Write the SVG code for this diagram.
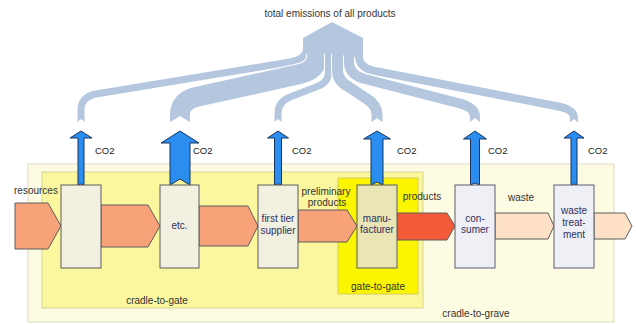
<svg xmlns="http://www.w3.org/2000/svg" width="636" height="324" viewBox="0 0 636 324">
<style>
  .t { font-family: "Liberation Sans", Arial, sans-serif; font-size: 10px; fill: #333; }
  .mid { text-anchor: middle; }
  .in { fill: #2e2e5e; text-anchor: middle; }
  .co2t { font-size: 9.5px; fill: #222; }
  .box { stroke: #5c5c5c; stroke-width: 1; }
  .beige { fill: #f2f0e0; }
  .khaki { fill: #e9e5b4; }
  .lav { fill: #efeff6; stroke: #5e5e70; }
  .flow { stroke: #5c5c5c; stroke-width: 1; stroke-linejoin: miter; }
  .salmon { fill: #f8a27a; }
  .red { fill: #f35a3a; }
  .peach { fill: #fde0c6; }
  .co2 { fill: #2b8df0; stroke: #17345e; stroke-width: 1; stroke-linejoin: miter; }
  .band { fill: none; stroke: #b4c7df; stroke-linecap: butt; stroke-linejoin: round; }
  .halo { fill: none; stroke: #ffffff; stroke-linecap: butt; stroke-linejoin: round; }
  .notch { fill: #ffffff; }
</style>

<g id="region-cradle-to-grave">
  <rect x="28" y="164" width="586" height="158" fill="#fdfbe1" stroke="#dedbc4" stroke-width="1"/>
  <text class="t mid" x="476" y="317">cradle-to-grave</text>
</g>
<g id="region-cradle-to-gate">
  <rect x="42" y="172" width="381" height="136" fill="#faf79e" stroke="#d8d590" stroke-width="1"/>
  <text class="t mid" x="157" y="304">cradle-to-gate</text>
</g>
<g id="region-gate-to-gate">
  <rect x="338" y="178" width="80" height="116" fill="#fbf500" stroke="#d4cc60" stroke-width="1"/>
  <text class="t mid" x="378" y="290">gate-to-gate</text>
</g>

<g id="connectors">
  <!-- emission bands -->
  <g id="bands">
    <path class="halo" stroke-width="9" d="M 81,122 V 110 Q 81,97 96,94 L 290,62 Q 306.5,59 306.5,48 V 40"/>
    <path class="band" stroke-width="7" d="M 81,122 V 110 Q 81,97 96,94 L 290,62 Q 306.5,59 306.5,48 V 40"/>
    <path class="halo" stroke-width="22" d="M 180,122 V 114 Q 180,101 196,97 L 300,74 Q 317,70 317,57 V 40"/>
    <path class="band" stroke-width="20" d="M 180,122 V 114 Q 180,101 196,97 L 300,74 Q 317,70 317,57 V 40"/>
    <path class="halo" stroke-width="9" d="M 278,122 V 113 Q 278,102 290,97 L 316,87 Q 328.5,83 328.5,72 V 40"/>
    <path class="band" stroke-width="7" d="M 278,122 V 113 Q 278,102 290,97 L 316,87 Q 328.5,83 328.5,72 V 40"/>
    <path class="halo" stroke-width="10" d="M 574,122 V 118 Q 574,109 556,106 L 375,71 Q 359,68 359,56 V 40"/>
    <path class="band" stroke-width="8" d="M 574,122 V 118 Q 574,109 556,106 L 375,71 Q 359,68 359,56 V 40"/>
    <path class="halo" stroke-width="12" d="M 475,122 V 117 Q 475,107 458,103 L 365,79 Q 349,75 349,62 V 40"/>
    <path class="band" stroke-width="10" d="M 475,122 V 117 Q 475,107 458,103 L 365,79 Q 349,75 349,62 V 40"/>
    <path class="halo" stroke-width="13" d="M 377,122 V 115 Q 377,105 367,99 L 349,87 Q 337.5,81 337.5,70 V 40"/>
    <path class="band" stroke-width="11" d="M 377,122 V 115 Q 377,105 367,99 L 349,87 Q 337.5,81 337.5,70 V 40"/>
    <polygon fill="#b4c7df" points="303,54 303,38 332,22 363,38 363,58 333,54"/>
    <polygon class="notch" points="77,122.6 81,119 85,122.6"/>
    <polygon class="notch" points="169.5,122.6 180,116 190.5,122.6"/>
    <polygon class="notch" points="274,122.6 278,119 282,122.6"/>
    <polygon class="notch" points="371,122.6 377,118 383,122.6"/>
    <polygon class="notch" points="469.5,122.6 475,118 480.5,122.6"/>
    <polygon class="notch" points="570,122.6 574,119 578,122.6"/>
  </g>

  <!-- CO2 arrows -->
  <g id="co2-arrows">
    <polygon class="co2" points="81,131 92,138 84,138 84,185 81,184 78,185 78,138 70,138"/>
    <polygon class="co2" points="180,131 199,143 190,143 190,185 180,179 170,185 170,143 161,143"/>
    <polygon class="co2" points="278,131 288.5,138 281.5,138 281.5,185 278,184 274.5,185 274.5,138 267.5,138"/>
    <polygon class="co2" points="377,131 390.5,139 383,139 383,185 377,182 371,185 371,139 363.5,139"/>
    <polygon class="co2" points="475,131 486.5,139 479.5,139 479.5,185 475,183 470.5,185 470.5,139 463.5,139"/>
    <polygon class="co2" points="574,131 584,138 577,138 577,185 574,184 571,185 571,138 564,138"/>
    <text class="t co2t" x="95" y="154">CO2</text>
    <text class="t co2t" x="193" y="154">CO2</text>
    <text class="t co2t" x="292" y="154">CO2</text>
    <text class="t co2t" x="397" y="154">CO2</text>
    <text class="t co2t" x="488" y="154">CO2</text>
    <text class="t co2t" x="588" y="154">CO2</text>
  </g>

  <!-- material flow arrows -->
  <g id="flows">
    <polygon class="flow salmon" points="15,203 48,203 61,226 48,249 15,249"/>
    <polygon class="flow salmon" points="101,205 148,205 160,226 148,247 101,247"/>
    <polygon class="flow salmon" points="199,206 248,206 258,226 248,246 199,246"/>
    <polygon class="flow salmon" points="298,210 347,210 357,226 347,242 298,242"/>
    <polygon class="flow red" points="397,213 447,213 455,226 447,240 397,240"/>
    <polygon class="flow peach" points="495,213 548,213 554,226 548,239 495,239"/>
    <polygon class="flow peach" points="594,213 625,213 632,226 625,239 594,239"/>
    <text class="t" x="14" y="194">resources</text>
    <text class="t mid" x="326" y="195">preliminary</text>
    <text class="t mid" x="327" y="206">products</text>
    <text class="t mid" x="422" y="200">products</text>
    <text class="t mid" x="521" y="201">waste</text>
  </g>
</g>

<g id="title">
  <text class="t mid" x="330" y="17">total emissions of all products</text>
</g>

<g id="node-process1">
  <rect class="box beige" x="61" y="185" width="40" height="83"/>
</g>
<g id="node-etc">
  <rect class="box beige" x="160" y="185" width="39" height="83"/>
  <text class="t in" x="179.5" y="229">etc.</text>
</g>
<g id="node-first-tier-supplier">
  <rect class="box beige" x="258" y="185" width="40" height="83"/>
  <text class="t in" x="278" y="222">first tier</text>
  <text class="t in" x="278" y="234">supplier</text>
</g>
<g id="node-manufacturer">
  <rect class="box khaki" x="357" y="185" width="40" height="83"/>
  <text class="t in" x="377" y="222">manu-</text>
  <text class="t in" x="377" y="233">facturer</text>
</g>
<g id="node-consumer">
  <rect class="box lav" x="455" y="185" width="40" height="83"/>
  <text class="t in" x="475" y="222">con-</text>
  <text class="t in" x="475" y="233">sumer</text>
</g>
<g id="node-waste-treatment">
  <rect class="box lav" x="554" y="185" width="40" height="83"/>
  <text class="t in" x="574" y="214">waste</text>
  <text class="t in" x="574" y="226">treat-</text>
  <text class="t in" x="574" y="238">ment</text>
</g>
</svg>
